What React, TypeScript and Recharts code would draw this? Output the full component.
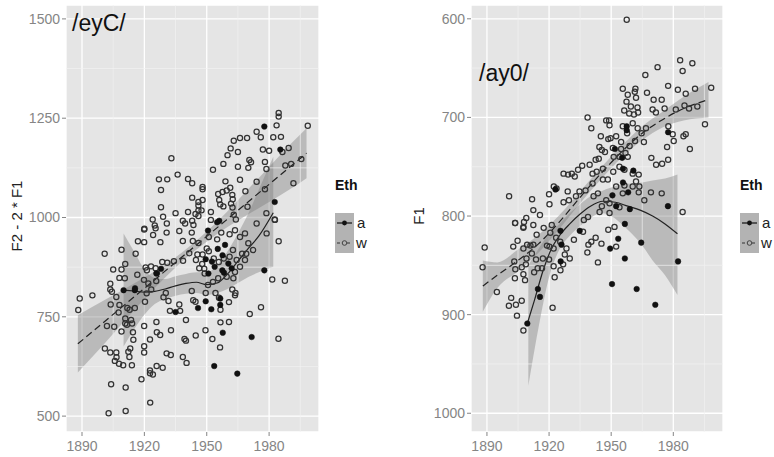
import React from 'react';
import {
  ComposedChart, Scatter, Line, Area, XAxis, YAxis, CartesianGrid, ReferenceLine
} from 'recharts';

// year ticks shared by both panels
const xTicks = [1890, 1920, 1950, 1980];
const xMinor = [1905, 1935, 1965, 1995];
const xDomain = [1882.3, 2004];

// left panel: F2 - 2*F1 for /eyC/
const leftYTicks = [500, 750, 1000, 1250, 1500];
const leftYMinor = [625, 875, 1125, 1375];
const leftYDomain = [460, 1535];

const leftW: number[][] = [
  [1933, 1149], [1927, 1096], [1931, 1096], [1928, 1069], [1936, 1108], [1941, 1097], [1943, 1086],
  [1948, 1077], [1948, 1071], [1943, 1050], [1946, 1039], [1946, 1030], [1948, 1044], [1946, 1018],
  [1947.5, 1018], [1944.6, 1009], [1946, 1004], [1941, 1014], [1935, 1011], [1928, 1026], [1929, 1002],
  [1924, 995], [1920, 972], [1925, 980], [1938.5, 992], [1943, 992], [1952, 1014], [1952, 994],
  [1953, 1120], [1958, 1135], [1960, 1157], [1961.5, 1174], [1963, 1193], [1966, 1200], [1969.4, 1200],
  [1965, 1165], [1965, 1128], [1970.5, 1145], [1971.3, 1139], [1970, 1125], [1966, 1095], [1959, 1091],
  [1955.5, 1059], [1957.6, 1064], [1959.6, 1068], [1961.3, 1075], [1962.3, 1057], [1962.5, 1046],
  [1956, 1044], [1956.5, 1033], [1958, 1028], [1961.7, 1035], [1962.4, 1025], [1963, 1007], [1964, 995],
  [1968.6, 1066], [1969.6, 1027], [1974, 1216], [1976, 1202], [1982, 1202], [1985.7, 1203], [1983.6, 1232],
  [1984.6, 1263], [1984.6, 1254], [1977, 1171], [1980, 1168], [1986.4, 1165], [1989.4, 1175], [1978, 1140],
  [1978.7, 1122], [1987.8, 1131], [1990.6, 1135], [1991.7, 1086], [1974, 1090], [1978, 1071], [1998.6, 1231],
  [1995.5, 1147], [1978.7, 1011], [1982.7, 995],
  [1888.2, 767], [1888.9, 796], [1895, 804], [1900.9, 909], [1905, 869], [1909, 919], [1903.6, 833],
  [1903.6, 819], [1904.4, 813], [1906.5, 800], [1903.8, 781], [1908, 780], [1910.8, 883], [1909, 869],
  [1908, 848], [1910.6, 847], [1915.8, 909], [1916.9, 940], [1919.9, 938], [1919.9, 970], [1925.4, 973],
  [1924.2, 956], [1927.7, 938], [1930.7, 962], [1936.8, 966], [1938.5, 941], [1942.8, 962], [1943.3, 941],
  [1920.6, 874], [1921.2, 867], [1923.2, 877], [1925.4, 872], [1926, 860], [1925.7, 840], [1928.6, 888],
  [1931, 886], [1934.2, 890], [1938.6, 891], [1941.6, 910], [1945.5, 907], [1947.8, 883], [1948.8, 871],
  [1916.6, 856], [1919.8, 843], [1921.9, 834], [1921.1, 809], [1920.3, 788], [1923.3, 819], [1930.3, 810],
  [1929.2, 799], [1931.6, 790], [1932.3, 765], [1936.8, 781], [1937.2, 765], [1940, 742], [1942.8, 815],
  [1943.5, 792], [1944.6, 788], [1949.5, 810], [1954.2, 810], [1955.9, 798], [1956.6, 768], [1949.4, 716],
  [1952.7, 694], [1956.6, 736], [1960.7, 737], [1960.7, 787], [1963.6, 804], [1963.8, 810], [1962.3, 819],
  [1970.7, 757], [1976.1, 774], [1981.5, 844], [1987.6, 841], [1984.6, 940], [1984.5, 695], [1956.4, 673],
  [1944.7, 703], [1939.3, 694], [1940, 690], [1932.8, 716], [1927.6, 704], [1926, 711], [1925.8, 737],
  [1919.9, 727], [1922.7, 693], [1919.9, 676], [1919.9, 660], [1922.7, 615], [1922.7, 608], [1924.1, 605],
  [1925.9, 626], [1928.8, 622], [1930.7, 658], [1932.7, 654], [1938.5, 649], [1940.3, 634], [1918.6, 593],
  [1922.8, 534], [1914.5, 711], [1914.7, 692], [1913.2, 670], [1912.3, 662], [1912.8, 649], [1914, 628],
  [1909.8, 628], [1906.5, 660], [1906.6, 648], [1905.8, 639], [1907.8, 632], [1903.6, 660], [1901, 670],
  [1904, 580], [1911, 572], [1911, 513], [1902.8, 507], [1909, 713], [1905.5, 725], [1902, 727],
  [1910.8, 733], [1911.6, 730], [1913.6, 742], [1914.1, 733], [1910.8, 746], [1911.8, 772], [1912.9, 768],
  [1915.4, 772], [1907.6, 761],
  [1946, 936], [1951, 951], [1950, 922], [1955, 945], [1957, 962], [1961, 958], [1963.6, 968],
  [1966, 951], [1968.4, 960], [1970, 935], [1967, 909], [1962.6, 918], [1961, 901], [1964.4, 893],
  [1966, 876], [1963.6, 863], [1962.8, 847], [1959.6, 851], [1955.5, 847], [1953, 838], [1950.6, 830],
  [1949, 859], [1946.4, 872], [1944.8, 893], [1948, 907], [1951, 915], [1953.4, 897], [1955.8, 888],
  [1958.2, 897], [1968.4, 893], [1969, 909], [1972.3, 918], [1974, 985], [1978.8, 960], [1982.8, 994],
  [1930.8, 985], [1939.6, 985], [1943.6, 981]
];

const leftA: number[][] = [
  [1977.7, 1229], [1956, 992], [1982.7, 1039], [1985.4, 1171], [1910, 817], [1915.4, 817], [1915.5, 822],
  [1925.8, 859], [1928, 871], [1935, 762], [1945.8, 772], [1949.5, 789], [1952.2, 769], [1956.5, 780],
  [1956.5, 796], [1957.7, 710], [1953.6, 626], [1964.7, 607], [1971.6, 699], [1977.7, 867], [1950.6, 967],
  [1955, 988], [1949.5, 895], [1952.5, 889], [1950.8, 859], [1955.3, 921], [1958.8, 931], [1957.6, 905],
  [1957.5, 867], [1958.3, 861], [1960.4, 884], [1962, 872], [1953.8, 876]
];

const leftWFit: number[][] = [[1888, 682], [1998, 1162]];
const leftWBand: number[][] = [
  [1888, 610, 754], [1900, 678, 790], [1910, 737, 819], [1920, 795, 849], [1930, 849, 881],
  [1940, 898, 920], [1950, 939, 965], [1960, 976, 1016], [1970, 1008, 1072], [1980, 1039, 1127],
  [1990, 1071, 1183], [1998, 1099, 1225]
];
const leftAFit: number[][] = [
  [1910, 817], [1915, 815], [1920, 812], [1925, 814], [1930, 820], [1935, 828], [1940, 834], [1945, 837],
  [1950, 831], [1955, 835], [1960, 858], [1965, 890], [1970, 922], [1975, 953], [1982, 1012]
];
const leftABand: number[][] = [
  [1910, 675, 960], [1915, 718, 915], [1920, 755, 870], [1925, 782, 848], [1930, 795, 845], [1935, 803, 852],
  [1940, 808, 858], [1945, 810, 862], [1950, 805, 862], [1955, 810, 880], [1960, 820, 915], [1965, 835, 960],
  [1970, 850, 1010], [1975, 862, 1070], [1982, 876, 1153]
];

// right panel: F1 for /ay0/
const rightYTicks = [600, 700, 800, 900, 1000];
const rightYMinor = [650, 750, 850, 950];
const rightYDomain = [586, 1019];

const rightW: number[][] = [
  [1957.5, 601], [1983.3, 642], [1989.2, 645], [1984.5, 653], [1972.4, 649], [1966.5, 657], [1977.5, 668],
  [1982.2, 672], [1986, 676], [1990.5, 671], [1998.3, 670], [1955.6, 671], [1961.7, 671], [1958, 677],
  [1961.4, 674], [1962, 680], [1967.3, 675], [1970.5, 682], [1974.4, 682], [1957.4, 684], [1959.5, 689],
  [1962.7, 690], [1956.3, 693], [1958.7, 696], [1961, 697], [1963, 695], [1970, 692], [1971.6, 695],
  [1975.8, 691], [1981.2, 692], [1985.4, 688], [1987.6, 691], [1991.6, 689], [1995.3, 707], [1938.6, 700],
  [1940.4, 711], [1947.6, 703], [1949.2, 708], [1949, 703], [1955.6, 709], [1957.7, 716], [1960.4, 706],
  [1962.8, 711], [1964.7, 716], [1966.8, 711], [1965.8, 725], [1961.5, 724], [1958.9, 729], [1977.6, 709],
  [1979.7, 717], [1986, 717], [1984.9, 719], [1980.2, 724], [1977, 730], [1988, 732], [1969.4, 741],
  [1971.7, 748], [1974.6, 747], [1977.5, 743], [1945, 719], [1948.6, 722], [1949.7, 721], [1952.4, 719],
  [1954.8, 725], [1944.3, 730], [1945.5, 733], [1947, 735], [1950.8, 731], [1954.8, 732], [1956.9, 736],
  [1958, 740], [1954, 740], [1951.2, 740], [1944, 742], [1942.5, 743], [1939.6, 748], [1936, 749],
  [1934, 753], [1931, 757], [1927, 757], [1929.2, 758], [1932.4, 760], [1941, 757], [1943, 755],
  [1946, 752], [1948.4, 763], [1951, 755], [1954, 750], [1956.4, 753], [1960.4, 757], [1963.3, 758],
  [1962, 765], [1960.4, 770], [1963.6, 770], [1956.4, 769], [1952.4, 770], [1946, 763], [1941, 767],
  [1937.6, 774], [1934.7, 775], [1933, 780], [1929.6, 784], [1927, 786], [1922.3, 770], [1923.6, 772],
  [1920, 778], [1920.2, 788], [1911.8, 783], [1900.7, 780], [1912.4, 794], [1915.6, 799], [1909, 802],
  [1903.6, 807], [1907.6, 812], [1929, 775], [1941.5, 780], [1943.6, 777], [1947.6, 784], [1949.2, 787],
  [1955.6, 777], [1963.3, 776], [1966, 784], [1969.2, 776], [1974.4, 777], [1984.5, 796], [1944.4, 796],
  [1938.8, 801], [1936.8, 804], [1954, 791], [1949.2, 797], [1945.5, 790],
  [1888.9, 832], [1887.9, 852], [1894.8, 877], [1901.7, 883], [1900.6, 891], [1904, 890], [1906.8, 886],
  [1904.5, 901], [1907.6, 916], [1903.5, 863], [1903.7, 854], [1903.2, 846], [1902.7, 831], [1904.8, 825],
  [1906.8, 852], [1907.6, 859], [1908.4, 865], [1908.8, 849], [1909.1, 843], [1907.6, 833], [1909.4, 829],
  [1911, 830], [1912.4, 829], [1911.7, 838], [1913.7, 844], [1912.8, 857], [1914.5, 853], [1916.6, 853],
  [1917, 843], [1919, 830], [1920.2, 831], [1922.2, 833], [1920, 844], [1922.2, 851], [1922.7, 862],
  [1925.5, 855], [1926.8, 849], [1927.6, 839], [1930, 843], [1928.4, 833], [1921.7, 893], [1907.9, 806],
  [1903.6, 807], [1907.6, 811], [1912.4, 809], [1914, 819], [1917.4, 812], [1921.3, 809], [1920.6, 817],
  [1923.4, 822], [1925.4, 826], [1932, 824], [1936.4, 816], [1939, 829], [1938.5, 837], [1940.4, 826],
  [1942.5, 822], [1943.6, 847], [1945.3, 828], [1948.6, 814], [1951.6, 811], [1952.4, 831]
];

const rightA: number[][] = [
  [1957.5, 709], [1957.5, 713], [1977.5, 715], [1951.8, 732], [1955.3, 741], [1955.7, 752], [1960.7, 754],
  [1955.7, 766], [1958.2, 776], [1923.1, 773], [1950.6, 779], [1952.4, 790], [1959, 793], [1977.4, 790],
  [1956.6, 808], [1953.4, 823], [1949.5, 833], [1956.6, 843], [1964.5, 827], [1950.4, 869], [1962.3, 874],
  [1971.3, 890], [1982.3, 846], [1914.6, 874], [1915.6, 882], [1909.5, 909], [1925.5, 815], [1934.8, 815],
  [1925.6, 846], [1926, 829]
];

const rightWFit: number[][] = [
  [1888, 871], [1895, 860], [1905, 845], [1915, 828], [1925, 806], [1935, 781], [1945, 757], [1955, 735],
  [1965, 716], [1975, 702], [1985, 691], [1997, 682]
];
const rightWBand: number[][] = [
  [1888, 845, 897], [1895, 847, 873], [1905, 834, 856], [1915, 819, 837], [1925, 799, 813], [1935, 775, 787],
  [1945, 751, 763], [1955, 729, 741], [1965, 709, 723], [1975, 694, 710], [1985, 679, 703], [1997, 664, 700]
];
const rightAFit: number[][] = [
  [1909.5, 909], [1913, 885], [1917, 856], [1921, 834], [1925, 820], [1930, 808], [1935, 798], [1940, 790],
  [1946, 785], [1952, 786], [1958, 790], [1964, 794], [1970, 800], [1976, 808], [1982, 818]
];
const rightABand: number[][] = [
  [1910, 850, 972], [1915, 833, 912], [1920, 818, 862], [1925, 808, 834], [1930, 797, 820], [1935, 788, 810],
  [1940, 780, 802], [1945, 775, 797], [1950, 771, 800], [1955, 768, 808], [1960, 767, 818], [1965, 766, 830],
  [1970, 764, 845], [1976, 762, 860], [1982, 758, 880]
];

const FONT = '"Liberation Sans", Arial, Helvetica, sans-serif';
const toPts = (arr: number[][]) => arr.map(([x, y]) => ({ x, y }));
const toBand = (arr: number[][]) => arr.map(([x, lo, hi]) => ({ x, band: [lo, hi] }));

const OpenDot = (props: any) => (
  <circle cx={props.cx} cy={props.cy} r={2.6} fill="none" stroke="#333" strokeWidth={1.25} />
);
const FilledDot = (props: any) => (
  <circle cx={props.cx} cy={props.cy} r={2.8} fill="#111" stroke="#111" strokeWidth={0.5} />
);

const tickStyle = { fill: '#858585', fontSize: 14, fontFamily: FONT };

interface PanelProps {
  width: number;
  yAxisWidth: number;
  yDomain: number[];
  yTicks: number[];
  yMinor: number[];
  reversed?: boolean;
  w: number[][];
  a: number[][];
  wFit: number[][];
  aFit: number[][];
  wBand: number[][];
  aBand: number[][];
}

const Panel: React.FC<PanelProps> = (p) => (
  <ComposedChart width={p.width} height={457} margin={{ top: 5, right: 1, bottom: 0, left: 0 }}>
    <CartesianGrid fill="#E5E5E5" stroke="#FFFFFF" strokeWidth={1.3} />
    {xMinor.map((v) => (
      <ReferenceLine key={`vx${v}`} x={v} stroke="#F2F2F2" strokeWidth={0.7} />
    ))}
    {p.yMinor.map((v) => (
      <ReferenceLine key={`hy${v}`} y={v} stroke="#F2F2F2" strokeWidth={0.7} />
    ))}
    <XAxis
      type="number" dataKey="x" domain={xDomain} ticks={xTicks} allowDataOverflow
      height={25} axisLine={false} tickSize={4} tickMargin={5}
      tickLine={{ stroke: '#858585' }} tick={tickStyle}
    />
    <YAxis
      type="number" dataKey="y" domain={p.yDomain} ticks={p.yTicks} allowDataOverflow reversed={p.reversed}
      width={p.yAxisWidth} axisLine={false} tickSize={4} tickMargin={2}
      tickLine={{ stroke: '#858585' }} tick={tickStyle}
    />
    <Scatter data={toPts(p.w)} dataKey="y" shape={OpenDot} isAnimationActive={false} />
    <Scatter data={toPts(p.a)} dataKey="y" shape={FilledDot} isAnimationActive={false} />
    <Area data={toBand(p.aBand)} dataKey="band" type="monotone" fill="#7a7a7a" fillOpacity={0.4}
      stroke="none" isAnimationActive={false} />
    <Area data={toBand(p.wBand)} dataKey="band" type="monotone" fill="#7a7a7a" fillOpacity={0.4}
      stroke="none" isAnimationActive={false} />
    <Line data={toPts(p.aFit)} dataKey="y" type="monotone" stroke="#222" strokeWidth={1.2}
      dot={false} isAnimationActive={false} />
    <Line data={toPts(p.wFit)} dataKey="y" type="monotone" stroke="#222" strokeWidth={1.2}
      strokeDasharray="7 4" dot={false} isAnimationActive={false} />
  </ComposedChart>
);

const LegendBox: React.FC<{ left: number }> = ({ left }) => (
  <div style={{ position: 'absolute', left, top: 177, fontFamily: FONT }}>
    <div style={{ fontWeight: 'bold', fontSize: 14, color: '#111' }}>Eth</div>
    <svg width={40} height={42} style={{ position: 'absolute', left: 0, top: 36 }}>
      <rect x={0} y={0} width={19} height={40} fill="#b3b3b3" />
      <line x1={2} y1={10} x2={17} y2={10} stroke="#111" strokeWidth={1.2} />
      <circle cx={9.5} cy={10} r={2.4} fill="#111" />
      <line x1={2} y1={30} x2={17} y2={30} stroke="#333" strokeWidth={1.2} strokeDasharray="3 2" />
      <circle cx={9.5} cy={30} r={2.3} fill="#b3b3b3" stroke="#444" strokeWidth={1} />
      <text x={22} y={15} fontSize={15} fill="#222" fontFamily={FONT}>a</text>
      <text x={21} y={35} fontSize={15} fill="#222" fontFamily={FONT}>w</text>
    </svg>
  </div>
);

export default function App() {
  return (
    <div style={{ position: 'absolute', left: 0, top: 0, width: 774, height: 457, background: '#fff', overflow: 'hidden', fontFamily: FONT }}>
      <div style={{ position: 'absolute', left: 0, top: 0 }}>
        <Panel width={320} yAxisWidth={66} yDomain={leftYDomain} yTicks={leftYTicks} yMinor={leftYMinor}
          w={leftW} a={leftA} wFit={leftWFit} aFit={leftAFit} wBand={leftWBand} aBand={leftABand} />
      </div>
      <div style={{ position: 'absolute', left: 390, top: 0 }}>
        <Panel width={334} yAxisWidth={81} yDomain={rightYDomain} yTicks={rightYTicks} yMinor={rightYMinor} reversed
          w={rightW} a={rightA} wFit={rightWFit} aFit={rightAFit} wBand={rightWBand} aBand={rightABand} />
      </div>
      <div style={{ position: 'absolute', left: 72, top: 10, fontSize: 23, color: '#111' }}>/eyC/</div>
      <div style={{ position: 'absolute', left: 479, top: 60, fontSize: 23, color: '#111' }}>/ay0/</div>
      <div style={{ position: 'absolute', left: 16, top: 216, transform: 'translate(-50%, -50%) rotate(-90deg)', whiteSpace: 'nowrap', fontSize: 15, color: '#222' }}>
        F2 - 2 * F1
      </div>
      <div style={{ position: 'absolute', left: 418, top: 216, transform: 'translate(-50%, -50%) rotate(-90deg)', whiteSpace: 'nowrap', fontSize: 15, color: '#222' }}>
        F1
      </div>
      <LegendBox left={335} />
      <LegendBox left={740} />
    </div>
  );
}
